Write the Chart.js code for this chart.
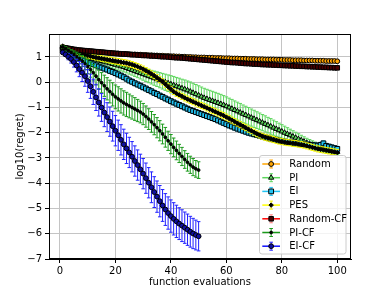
<!DOCTYPE html>
<html>
<head>
<meta charset="utf-8">
<script src="https://cdn.jsdelivr.net/npm/chart.js@4.4.1/dist/chart.umd.min.js"></script>
<style>
html,body{margin:0;padding:0;background:#fff;}
#wrap{width:390px;height:292px;}
</style>
</head>
<body>
<div id="wrap"><canvas id="c" width="390" height="292"></canvas></div>
<script>
// ---- data ----
const evals = Array.from({length:100}, (_, i) => i + 1);
const xTicks = [0, 20, 40, 60, 80, 100];
const yTicks = [-7, -6, -5, -4, -3, -2, -1, 0, 1];
const seriesNames = ['Random', 'PI', 'EI', 'PES', 'Random-CF', 'PI-CF', 'EI-CF'];

const randomVals = [
 1.38,1.36,1.34,1.32,1.30,1.29,1.27,1.26,1.25,1.24,
 1.23,1.22,1.21,1.20,1.19,1.18,1.17,1.16,1.15,1.14,
 1.14,1.13,1.12,1.12,1.11,1.10,1.10,1.09,1.09,1.08,
 1.08,1.07,1.07,1.06,1.06,1.05,1.05,1.04,1.04,1.03,
 1.03,1.02,1.02,1.01,1.01,1.00,1.00,0.99,0.99,0.98,
 0.98,0.98,0.97,0.97,0.97,0.96,0.96,0.96,0.95,0.95,
 0.95,0.94,0.94,0.94,0.93,0.93,0.93,0.92,0.92,0.92,
 0.91,0.91,0.91,0.90,0.90,0.90,0.90,0.89,0.89,0.89,
 0.88,0.88,0.88,0.87,0.87,0.87,0.87,0.86,0.86,0.86,
 0.86,0.85,0.85,0.85,0.85,0.84,0.84,0.84,0.84,0.83];
const randomErr = [
 0.03,0.03,0.03,0.03,0.03,0.03,0.03,0.03,0.03,0.03,
 0.03,0.03,0.03,0.03,0.03,0.03,0.03,0.03,0.03,0.03,
 0.03,0.03,0.03,0.03,0.03,0.03,0.03,0.03,0.03,0.03,
 0.03,0.03,0.03,0.03,0.03,0.03,0.03,0.03,0.03,0.03,
 0.03,0.03,0.03,0.03,0.03,0.03,0.03,0.03,0.03,0.03,
 0.03,0.03,0.03,0.03,0.03,0.03,0.03,0.03,0.03,0.03,
 0.03,0.03,0.03,0.03,0.03,0.03,0.03,0.03,0.03,0.03,
 0.03,0.03,0.03,0.03,0.03,0.03,0.03,0.03,0.03,0.03,
 0.03,0.03,0.03,0.03,0.03,0.03,0.03,0.03,0.03,0.03,
 0.03,0.03,0.03,0.03,0.03,0.03,0.03,0.03,0.03,0.03];

const piVals = [
 1.40,1.35,1.30,1.25,1.20,1.15,1.11,1.07,1.03,0.99,
 0.96,0.93,0.90,0.87,0.84,0.81,0.78,0.75,0.72,0.69,
 0.66,0.63,0.60,0.56,0.52,0.48,0.44,0.40,0.36,0.32,
 0.28,0.24,0.20,0.16,0.12,0.08,0.04,0.00,-0.04,-0.08,
 -0.12,-0.16,-0.20,-0.24,-0.28,-0.32,-0.37,-0.42,-0.47,-0.52,
 -0.57,-0.62,-0.66,-0.70,-0.74,-0.78,-0.82,-0.86,-0.90,-0.95,
 -1.00,-1.05,-1.10,-1.15,-1.20,-1.25,-1.30,-1.35,-1.40,-1.45,
 -1.50,-1.55,-1.60,-1.65,-1.70,-1.75,-1.80,-1.85,-1.90,-1.95,
 -2.00,-2.05,-2.10,-2.15,-2.20,-2.25,-2.30,-2.35,-2.40,-2.44,
 -2.48,-2.52,-2.56,-2.60,-2.63,-2.66,-2.69,-2.72,-2.74,-2.76];
const piErr = [
 0.05,0.06,0.07,0.08,0.09,0.10,0.10,0.11,0.12,0.12,
 0.13,0.13,0.14,0.14,0.15,0.15,0.16,0.16,0.17,0.17,
 0.18,0.18,0.19,0.19,0.20,0.20,0.21,0.22,0.23,0.24,
 0.25,0.26,0.27,0.28,0.29,0.30,0.31,0.32,0.33,0.34,
 0.35,0.35,0.36,0.36,0.37,0.37,0.38,0.38,0.38,0.38,
 0.38,0.38,0.38,0.38,0.38,0.38,0.38,0.38,0.37,0.37,
 0.37,0.37,0.36,0.36,0.36,0.35,0.35,0.35,0.34,0.34,
 0.33,0.33,0.32,0.32,0.31,0.31,0.30,0.29,0.28,0.27,
 0.26,0.25,0.24,0.23,0.22,0.21,0.20,0.19,0.18,0.17,
 0.16,0.15,0.14,0.13,0.12,0.12,0.11,0.11,0.10,0.10];

const eiVals = [
 1.30,1.25,1.19,1.13,1.07,1.02,0.96,0.91,0.86,0.80,
 0.76,0.71,0.67,0.62,0.58,0.54,0.50,0.45,0.41,0.36,
 0.31,0.26,0.20,0.14,0.07,0.02,-0.04,-0.09,-0.14,-0.20,
 -0.25,-0.31,-0.36,-0.42,-0.47,-0.53,-0.58,-0.64,-0.69,-0.75,
 -0.80,-0.85,-0.90,-0.95,-1.00,-1.05,-1.10,-1.14,-1.18,-1.22,
 -1.26,-1.30,-1.34,-1.38,-1.42,-1.46,-1.51,-1.56,-1.61,-1.66,
 -1.71,-1.75,-1.80,-1.84,-1.88,-1.92,-1.96,-2.00,-2.03,-2.06,
 -2.09,-2.12,-2.15,-2.18,-2.21,-2.24,-2.26,-2.28,-2.31,-2.33,
 -2.35,-2.37,-2.38,-2.40,-2.42,-2.43,-2.44,-2.45,-2.47,-2.48,
 -2.49,-2.50,-2.51,-2.48,-2.42,-2.52,-2.55,-2.58,-2.61,-2.64];
const eiErr = [
 0.05,0.05,0.06,0.06,0.07,0.07,0.08,0.08,0.08,0.09,
 0.09,0.09,0.09,0.10,0.10,0.10,0.10,0.10,0.10,0.10,
 0.10,0.10,0.10,0.10,0.10,0.10,0.10,0.10,0.10,0.10,
 0.10,0.10,0.10,0.10,0.10,0.10,0.10,0.10,0.10,0.10,
 0.10,0.10,0.10,0.10,0.10,0.10,0.10,0.10,0.10,0.10,
 0.10,0.10,0.10,0.10,0.10,0.10,0.10,0.10,0.10,0.10,
 0.10,0.10,0.10,0.10,0.10,0.10,0.10,0.10,0.10,0.10,
 0.10,0.10,0.10,0.10,0.10,0.10,0.10,0.10,0.10,0.10,
 0.10,0.10,0.10,0.10,0.10,0.10,0.10,0.10,0.10,0.10,
 0.10,0.10,0.10,0.10,0.10,0.10,0.10,0.10,0.10,0.10];

const pesVals = [
 1.42,1.38,1.33,1.28,1.24,1.20,1.16,1.12,1.09,1.06,
 1.03,1.00,0.98,0.96,0.94,0.92,0.90,0.88,0.86,0.84,
 0.82,0.80,0.78,0.76,0.73,0.70,0.66,0.62,0.57,0.52,
 0.46,0.40,0.33,0.26,0.18,0.10,0.02,-0.08,-0.18,-0.28,
 -0.37,-0.44,-0.50,-0.56,-0.62,-0.67,-0.72,-0.77,-0.82,-0.87,
 -0.92,-0.97,-1.02,-1.07,-1.12,-1.17,-1.22,-1.27,-1.32,-1.38,
 -1.44,-1.50,-1.56,-1.62,-1.68,-1.74,-1.80,-1.86,-1.92,-1.98,
 -2.04,-2.09,-2.14,-2.18,-2.21,-2.24,-2.27,-2.30,-2.33,-2.35,
 -2.37,-2.39,-2.40,-2.42,-2.43,-2.45,-2.47,-2.49,-2.52,-2.55,
 -2.58,-2.61,-2.64,-2.66,-2.68,-2.70,-2.72,-2.74,-2.76,-2.78];
const pesErr = [
 0.05,0.06,0.06,0.07,0.07,0.08,0.08,0.09,0.09,0.10,
 0.10,0.10,0.10,0.11,0.11,0.11,0.11,0.12,0.12,0.12,
 0.12,0.12,0.12,0.12,0.12,0.12,0.12,0.12,0.12,0.12,
 0.12,0.12,0.12,0.12,0.12,0.12,0.12,0.12,0.12,0.12,
 0.12,0.12,0.12,0.12,0.12,0.12,0.12,0.12,0.12,0.12,
 0.12,0.12,0.12,0.12,0.12,0.12,0.12,0.12,0.12,0.12,
 0.12,0.12,0.12,0.12,0.12,0.12,0.12,0.12,0.12,0.12,
 0.12,0.12,0.12,0.12,0.12,0.12,0.12,0.12,0.12,0.12,
 0.12,0.12,0.12,0.12,0.12,0.12,0.12,0.12,0.12,0.12,
 0.12,0.12,0.12,0.12,0.12,0.12,0.12,0.12,0.12,0.12];

const randomCfVals = [
 1.38,1.36,1.34,1.32,1.30,1.28,1.27,1.26,1.25,1.24,
 1.23,1.22,1.21,1.20,1.19,1.18,1.17,1.16,1.15,1.14,
 1.13,1.12,1.12,1.11,1.10,1.09,1.09,1.08,1.07,1.06,
 1.06,1.05,1.04,1.04,1.03,1.02,1.01,1.01,1.00,0.99,
 0.98,0.97,0.97,0.96,0.95,0.94,0.93,0.92,0.91,0.90,
 0.89,0.88,0.87,0.86,0.85,0.84,0.83,0.82,0.81,0.80,
 0.79,0.78,0.78,0.77,0.76,0.75,0.74,0.74,0.73,0.72,
 0.72,0.71,0.70,0.70,0.69,0.69,0.68,0.68,0.67,0.67,
 0.66,0.66,0.65,0.65,0.64,0.64,0.63,0.63,0.62,0.62,
 0.61,0.61,0.60,0.60,0.59,0.59,0.58,0.58,0.57,0.57];
const randomCfErr = [
 0.04,0.04,0.04,0.04,0.04,0.04,0.04,0.04,0.04,0.04,
 0.04,0.04,0.04,0.04,0.04,0.04,0.04,0.04,0.04,0.04,
 0.04,0.04,0.04,0.04,0.04,0.04,0.04,0.04,0.04,0.04,
 0.04,0.04,0.04,0.05,0.05,0.05,0.05,0.05,0.05,0.05,
 0.05,0.05,0.05,0.05,0.05,0.05,0.05,0.05,0.05,0.05,
 0.05,0.05,0.05,0.05,0.05,0.05,0.05,0.05,0.05,0.05,
 0.05,0.05,0.05,0.05,0.05,0.05,0.05,0.05,0.05,0.05,
 0.05,0.05,0.05,0.05,0.05,0.05,0.05,0.05,0.05,0.05,
 0.05,0.05,0.05,0.05,0.05,0.05,0.05,0.05,0.05,0.05,
 0.05,0.05,0.05,0.05,0.05,0.05,0.05,0.05,0.05,0.05];

const piCfVals = [
 1.40,1.33,1.25,1.17,1.09,1.01,0.93,0.84,0.74,0.62,
 0.50,0.38,0.24,0.10,-0.02,-0.14,-0.26,-0.37,-0.48,-0.58,
 -0.66,-0.74,-0.82,-0.88,-0.94,-1.00,-1.06,-1.12,-1.18,-1.26,
 -1.36,-1.46,-1.57,-1.68,-1.80,-1.92,-2.05,-2.18,-2.32,-2.45,
 -2.58,-2.70,-2.82,-2.94,-3.06,-3.17,-3.27,-3.36,-3.43,-3.48];
const piCfErr = [
 0.05,0.08,0.10,0.12,0.15,0.18,0.20,0.22,0.25,0.28,
 0.30,0.33,0.35,0.38,0.40,0.42,0.44,0.45,0.46,0.47,
 0.48,0.48,0.48,0.48,0.47,0.46,0.45,0.44,0.43,0.42,
 0.42,0.41,0.41,0.40,0.40,0.40,0.39,0.39,0.38,0.38,
 0.37,0.37,0.36,0.36,0.35,0.35,0.34,0.34,0.33,0.33];

const eiCfVals = [
 1.18,1.10,1.01,0.92,0.80,0.66,0.52,0.38,0.24,0.05,
 -0.16,-0.38,-0.60,-0.80,-1.00,-1.20,-1.38,-1.56,-1.74,-1.92,
 -2.10,-2.28,-2.46,-2.62,-2.78,-2.95,-3.12,-3.28,-3.45,-3.62,
 -3.80,-3.98,-4.16,-4.35,-4.53,-4.71,-4.88,-5.04,-5.18,-5.30,
 -5.41,-5.51,-5.60,-5.68,-5.76,-5.84,-5.92,-5.99,-6.05,-6.10];
const eiCfErr = [
 0.05,0.08,0.12,0.16,0.20,0.25,0.30,0.35,0.40,0.45,
 0.48,0.50,0.52,0.54,0.55,0.56,0.57,0.58,0.59,0.60,
 0.60,0.60,0.60,0.60,0.60,0.60,0.60,0.60,0.60,0.60,
 0.60,0.60,0.61,0.61,0.62,0.62,0.63,0.63,0.64,0.64,
 0.64,0.64,0.63,0.63,0.62,0.62,0.61,0.60,0.59,0.58];

// ---- styles ----
const styles = [
  {line:'#ffa500', err:'#ffa500', ps:'circle',  r:2.4, fill:'#ffa500', edge:'#000'},
  {line:'#5cd65c', err:'#5cd65c', ps:'triangle',r:3.0, fill:'#5cd65c', edge:'#000'},
  {line:'#22c4f4', err:'#22c4f4', ps:'rect',    r:3.4, fill:'#22c4f4', edge:'#000'},
  {line:'#ffff00', err:'#f2f200', ps:'rectRot', r:2.2, fill:'#000',    edge:'#000'},
  {line:'#ff0000', err:'rgba(255,0,0,0.45)', ps:'rect', r:3.2, fill:'#4a0000', edge:'#000'},
  {line:'#1a9a1a', err:'#1a9a1a', ps:'circle',  r:1.4, fill:'#000',    edge:'#000'},
  {line:'#1010ff', err:'#2020ff', ps:'circle',  r:2.4, fill:'#1010a0', edge:'#000'}
];
const allVals = [randomVals, piVals, eiVals, pesVals, randomCfVals, piCfVals, eiCfVals];
const allErr  = [randomErr, piErr, eiErr, pesErr, randomCfErr, piCfErr, eiCfErr];

const datasets = seriesNames.map((name, i) => ({
  label: name,
  data: allVals[i],
  errors: allErr[i],
  errColor: styles[i].err,
  borderColor: styles[i].line,
  backgroundColor: styles[i].fill,
  borderWidth: 1.5,
  pointStyle: styles[i].ps,
  pointRadius: styles[i].r,
  pointBackgroundColor: styles[i].fill,
  pointBorderColor: styles[i].edge,
  pointBorderWidth: 1,
  pointHoverRadius: styles[i].r,
  tension: 0,
  order: seriesNames.length - i
}));

const CAP = 1.8;
const errPlugin = {
  id: 'errbars',
  beforeDatasetDraw(chart, args) {
    const ds = chart.data.datasets[args.index];
    const ys = chart.scales.y;
    const ctx = chart.ctx;
    const a = chart.chartArea;
    ctx.save();
    ctx.beginPath();
    ctx.rect(a.left, a.top, a.right - a.left, a.bottom - a.top);
    ctx.clip();
    ctx.strokeStyle = ds.errColor;
    ctx.lineWidth = 1;
    ctx.beginPath();
    args.meta.data.forEach((pt, i) => {
      const v = ds.data[i], e = ds.errors[i];
      const x = pt.x;
      const y1 = ys.getPixelForValue(v + e), y2 = ys.getPixelForValue(v - e);
      ctx.moveTo(x, y1); ctx.lineTo(x, y2);
      ctx.moveTo(x - CAP, y1); ctx.lineTo(x + CAP, y1);
      ctx.moveTo(x - CAP, y2); ctx.lineTo(x + CAP, y2);
    });
    ctx.stroke();
    ctx.restore();
  }
};

function marker(ctx, style, r, x, y) {
  ctx.beginPath();
  if (style === 'circle') {
    ctx.arc(x, y, r, 0, Math.PI * 2);
  } else if (style === 'rect') {
    const s = r * Math.SQRT1_2;
    ctx.rect(x - s, y - s, 2 * s, 2 * s);
  } else if (style === 'rectRot') {
    ctx.moveTo(x, y - r); ctx.lineTo(x + r, y); ctx.lineTo(x, y + r); ctx.lineTo(x - r, y); ctx.closePath();
  } else if (style === 'triangle') {
    ctx.moveTo(x, y - r);
    ctx.lineTo(x + r * 0.866, y + r * 0.5);
    ctx.lineTo(x - r * 0.866, y + r * 0.5);
    ctx.closePath();
  }
  ctx.fill();
  ctx.stroke();
}

const framePlugin = {
  id: 'frame',
  afterDraw(chart) {
    const ctx = chart.ctx, a = chart.chartArea;
    ctx.save();
    ctx.strokeStyle = '#000';
    ctx.lineWidth = 1;
    ctx.strokeRect(Math.round(a.left) + 0.5, Math.round(a.top) + 0.5,
                   Math.round(a.right - a.left) - 1, Math.round(a.bottom - a.top) - 1);
    // legend
    const bx = 259.5, by = 155.5, bw = 86.5, bh = 98.5, rad = 2.5;
    ctx.beginPath();
    ctx.moveTo(bx + rad, by);
    ctx.arcTo(bx + bw, by, bx + bw, by + bh, rad);
    ctx.arcTo(bx + bw, by + bh, bx, by + bh, rad);
    ctx.arcTo(bx, by + bh, bx, by, rad);
    ctx.arcTo(bx, by, bx + bw, by, rad);
    ctx.closePath();
    ctx.fillStyle = 'rgba(255,255,255,0.8)';
    ctx.fill();
    ctx.strokeStyle = '#cccccc';
    ctx.stroke();
    ctx.font = '10px "DejaVu Sans"';
    ctx.textBaseline = 'middle';
    ctx.textAlign = 'left';
    seriesNames.forEach((name, i) => {
      const y = 164 + i * 13.7;
      const st = styles[i];
      const x0 = 262.3, x1 = 280, xm = (x0 + x1) / 2;
      ctx.strokeStyle = st.err; ctx.lineWidth = 1;
      ctx.beginPath();
      ctx.moveTo(xm, y - 4); ctx.lineTo(xm, y + 4);
      ctx.moveTo(xm - CAP, y - 4); ctx.lineTo(xm + CAP, y - 4);
      ctx.moveTo(xm - CAP, y + 4); ctx.lineTo(xm + CAP, y + 4);
      ctx.stroke();
      ctx.strokeStyle = st.line; ctx.lineWidth = 1.5;
      ctx.beginPath(); ctx.moveTo(x0, y); ctx.lineTo(x1, y); ctx.stroke();
      ctx.fillStyle = st.fill; ctx.strokeStyle = st.edge; ctx.lineWidth = 1;
      marker(ctx, st.ps, st.r, xm, y);
      ctx.fillStyle = '#000';
      ctx.fillText(name, 289.3, y + 0.5);
    });
    ctx.restore();
  }
};

const fmt = v => (v < 0 ? '\u2212' : '') + Math.abs(v);

Chart.defaults.font.family = '"DejaVu Sans", sans-serif';
Chart.defaults.font.size = 10;
Chart.defaults.color = '#000';

new Chart(document.getElementById('c'), {
  type: 'line',
  data: { labels: evals, datasets },
  options: {
    responsive: false,
    devicePixelRatio: 1,
    animation: false,
    layout: { padding: { left: 0, right: 39, top: 34, bottom: 0 } },
    plugins: { legend: { display: false }, tooltip: { enabled: false } },
    elements: { line: { borderCapStyle: 'butt' } },
    scales: {
      x: {
        type: 'linear',
        min: -3.95, max: 104.95,
        afterBuildTicks: s => { s.ticks = xTicks.map(v => ({ value: v })); },
        afterFit: s => { s.height = 33; },
        ticks: { callback: fmt, padding: 2, maxRotation: 0, autoSkip: false, color: '#000' },
        grid: { color: '#c4c4c4', lineWidth: 1, drawTicks: true, tickLength: 4, tickColor: '#000' },
        border: { display: true, color: '#000', width: 1 },
        title: { display: true, text: 'function evaluations', color: '#000', padding: { top: 0, bottom: 4 } }
      },
      y: {
        type: 'linear',
        min: -7, max: 1.91,
        afterBuildTicks: s => { s.ticks = yTicks.map(v => ({ value: v })); },
        afterFit: s => { s.width = 49; },
        ticks: { callback: fmt, padding: 3, autoSkip: false, color: '#000' },
        grid: { color: '#c4c4c4', lineWidth: 1, drawTicks: true, tickLength: 4, tickColor: '#000' },
        border: { display: true, color: '#000', width: 1 },
        title: { display: true, text: 'log10(regret)', color: '#000', padding: { top: 14, bottom: 0 } }
      }
    }
  },
  plugins: [errPlugin, framePlugin]
});
</script>
</body>
</html>
